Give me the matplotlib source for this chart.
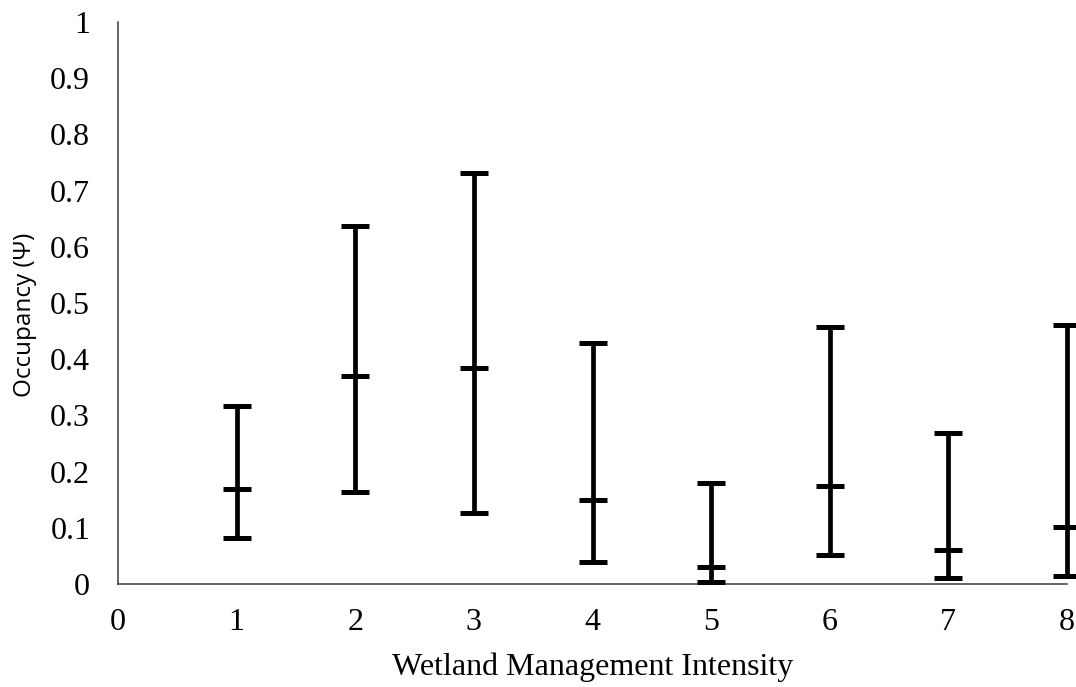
import matplotlib
matplotlib.use("Agg")
import matplotlib.pyplot as plt
import numpy as np

# Occupancy estimates with 95% interval bounds per management intensity level
intensity = [1, 2, 3, 4, 5, 6, 7, 8]
psi_mean = [0.169, 0.370, 0.385, 0.150, 0.031, 0.175, 0.060, 0.102]
psi_low = [0.082, 0.164, 0.126, 0.039, 0.004, 0.051, 0.011, 0.014]
psi_high = [0.317, 0.637, 0.732, 0.429, 0.180, 0.458, 0.268, 0.461]

x_ticks = [0, 1, 2, 3, 4, 5, 6, 7, 8]
y_ticks = [0, 0.1, 0.2, 0.3, 0.4, 0.5, 0.6, 0.7, 0.8, 0.9, 1]
y_tick_labels = ["0", "0.1", "0.2", "0.3", "0.4", "0.5", "0.6", "0.7", "0.8", "0.9", "1"]

fig = plt.figure(figsize=(10.76, 6.87), dpi=100)
ax = fig.add_axes([118 / 1076, 103 / 687, 949 / 1076, 562 / 687])

mean = np.array(psi_mean)
yerr = np.vstack([mean - np.array(psi_low), np.array(psi_high) - mean])

ax.errorbar(intensity, mean, yerr=yerr, fmt="none", ecolor="black",
            elinewidth=3.4, capsize=9.9, capthick=3.6, clip_on=False, zorder=3)
ax.plot(intensity, mean, linestyle="none", marker="_", markersize=19.8,
        markeredgewidth=3.6, color="black", clip_on=False, zorder=3)

ax.set_xlim(0, 8)
ax.set_ylim(0, 1)
ax.set_xticks(x_ticks)
ax.set_xticklabels([str(v) for v in x_ticks])
ax.set_yticks(y_ticks)
ax.set_yticklabels(y_tick_labels)

serif = ["Liberation Serif", "DejaVu Serif"]
for lbl in ax.get_xticklabels() + ax.get_yticklabels():
    lbl.set_fontfamily(serif)
    lbl.set_fontsize(23)
ax.tick_params(axis="both", length=0)
ax.tick_params(axis="x", pad=17)
ax.tick_params(axis="y", pad=20)

for side in ["top", "right"]:
    ax.spines[side].set_visible(False)
for side in ["left", "bottom"]:
    ax.spines[side].set_color("#3a3a3a")
    ax.spines[side].set_linewidth(1.1)

ax.set_xlabel("Wetland Management Intensity", family=serif, fontsize=23)
ax.xaxis.set_label_coords(0.5, (584 - 675) / 562)
ax.xaxis.label.set_va("baseline")

ax.set_ylabel("Occupancy (Ψ)", family=["Open Sans", "DejaVu Sans"], fontsize=17.5)
ax.yaxis.set_label_coords((25 - 118) / 949, (584 - 315) / 562)
ax.yaxis.label.set_va("center")

fig.savefig("out.png", dpi=100)
